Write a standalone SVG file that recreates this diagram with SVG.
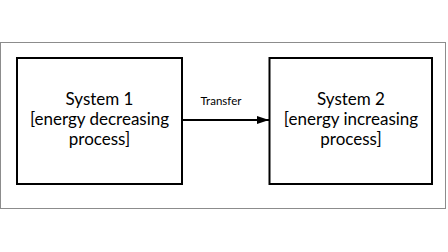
<svg xmlns="http://www.w3.org/2000/svg" width="448" height="252" viewBox="0 0 448 252">
<defs>
<style>
.frame{fill:#ffffff;stroke:#8c8c8c;stroke-width:1}
.box{fill:#ffffff;stroke:#000000;stroke-width:2}
.t{font-family:Lato,"Open Sans",sans-serif;font-size:17px;fill:#000000;text-anchor:middle}
.lbl{font-family:Lato,"Open Sans",sans-serif;font-size:11.5px;fill:#000000;text-anchor:middle}
.conn{stroke:#000000;stroke-width:2;fill:none}
</style>
<marker id="arr" markerWidth="12" markerHeight="8" refX="12" refY="4" orient="auto" markerUnits="userSpaceOnUse">
<path d="M0,0 L12,4 L0,8 Z" fill="#000000"/>
</marker>
</defs>
<rect width="448" height="252" fill="#ffffff"/>
<rect class="frame" x="0.5" y="42.5" width="445" height="166"/>
<g id="system1">
<rect class="box" x="17" y="58" width="165" height="126"/>
<text class="t" x="99.5" y="105">System 1</text>
<text class="t" x="99.5" y="125">[energy decreasing</text>
<text class="t" x="99.5" y="145">process]</text>
</g>
<g id="system2">
<rect class="box" x="269.5" y="58" width="162.5" height="126"/>
<text class="t" x="351" y="105">System 2</text>
<text class="t" x="351" y="125">[energy increasing</text>
<text class="t" x="351" y="145">process]</text>
</g>
<g id="connectors">
<line class="conn" x1="183" y1="120" x2="269" y2="120" marker-end="url(#arr)"/>
<text class="lbl" x="221" y="105">Transfer</text>
</g>
</svg>
